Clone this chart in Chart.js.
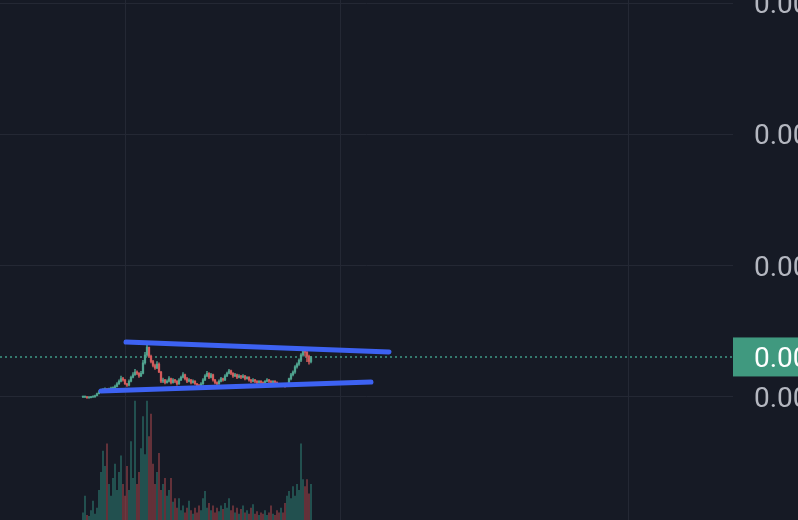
<!DOCTYPE html>
<html>
<head>
<meta charset="utf-8">
<script src="https://cdn.jsdelivr.net/npm/chart.js@4.4.1/dist/chart.umd.min.js"></script>
<style>
    html, body { margin: 0; padding: 0; background: #161a25; overflow: hidden; width: 798px; height: 520px; }
    #wrap { width: 880px; height: 520px; }
    canvas { display: block; }
</style>
</head>
<body>
<div id="wrap"><canvas id="myChart" width="880" height="520"></canvas></div>
<script>
// prices are in millionths (100 -> 0.0001000)
const closes = [
    100, 100, 99.5, 99.5, 100, 100, 101, 102.5, 104, 105,
    105.5, 106, 105.5, 106, 106.5, 107, 108, 110, 112, 114,
    113, 110, 109, 112, 115, 117, 119, 118, 116, 118,
    126, 132, 138, 131, 127, 124, 122, 125, 119, 112,
    113, 111, 112, 114, 111, 113, 112, 110, 113, 115,
    117, 114, 112, 113, 111, 112, 110, 109, 108.5, 110,
    113, 116, 118, 115, 117, 113, 111, 110, 112, 114,
    113, 116, 118, 120, 118, 116, 117, 115, 116, 115,
    116, 114, 115, 113, 112, 113, 112, 111, 112, 111,
    110, 112, 113, 112, 111, 112, 111, 110, 109, 110,
    109, 108.5, 110, 114, 117, 119, 123, 125, 128, 132, 135, 134, 131, 127, 130.5
];
const highs = [
    100.5, 100.5, 100.3, 100, 100.5, 100.6, 101.5, 103, 104.8, 105.8,
    106.5, 107, 106.5, 106.8, 107.5, 107.8, 109, 111, 113, 116,
    115, 113.5, 110.5, 113, 116, 118.5, 121, 120, 118.5, 119.5,
    128, 134, 141.5, 137, 132, 128, 125, 127, 126, 119.5,
    114.5, 113.5, 113, 115.5, 114.5, 114, 113.5, 112.5, 114, 116,
    118.5, 117.5, 115, 114, 113.5, 113, 112.5, 110.5, 109.5, 111,
    114, 117, 119.5, 118.5, 118, 117.5, 113.5, 111.5, 113, 115,
    114.5, 117, 119, 121, 120.5, 118.5, 118, 117.5, 117, 116.5,
    117, 116.5, 115.5, 115.5, 113.5, 114, 113.5, 112.5, 112.5, 112.5,
    111.5, 112.5, 114, 113.5, 112.5, 112.5, 112.5, 111.5, 110.5, 110.5,
    110.5, 109.5, 110.5, 114.5, 118, 120, 124, 126, 129, 133, 136.5, 137, 135, 132, 131
];
const lows = [
    99.5, 99.5, 99, 99, 99.3, 99.6, 99.8, 100.8, 102.3, 103.8,
    104.8, 105, 105, 105.2, 105.8, 106.2, 106.8, 107.6, 109.5, 111.5,
    112, 109.5, 108, 108.5, 111.5, 114.5, 116.5, 117, 115, 115.5,
    117.5, 125, 131, 130, 126, 123, 121, 121.5, 118.5, 111,
    111, 110, 110.5, 111.5, 110, 110.5, 111, 109, 109.5, 112.5,
    114.5, 113, 111, 111.5, 110, 110.5, 109.5, 108.5, 107.5, 108,
    109.5, 112.5, 115.5, 114, 114.5, 112, 110, 109, 109.5, 111.5,
    112, 112.5, 115.5, 117.5, 117, 115, 115.5, 114, 114.5, 114,
    114.5, 113, 113.5, 112, 111, 111.5, 111, 110, 110.5, 110,
    109, 109.5, 111.5, 111, 110, 110.5, 110, 109, 108, 108.5,
    108.5, 107.5, 108, 109.5, 113, 116, 118, 122, 124, 127, 131, 131, 127, 125, 126
];
const volumes = [
    6, 20, 4, 3, 8, 16, 5, 10, 25, 40,
    58, 45, 64, 30, 20, 35, 47, 25, 40, 54,
    30, 20, 45, 25, 66, 35, 100, 30, 40, 60,
    87, 55, 100, 70, 89, 47, 30, 40, 56, 25,
    30, 35, 20, 25, 35, 15, 18, 10, 18, 8,
    12, 6, 10, 16, 8, 5, 10, 6, 12, 8,
    18, 24, 10, 14, 8, 12, 6, 10, 7, 12,
    9, 14, 10, 18, 8, 12, 6, 10, 5, 9,
    12, 6, 8, 5, 10, 13, 5, 7, 4, 6,
    5, 8, 4, 6, 12, 5, 4, 8, 6, 10,
    6, 14, 20, 24, 18, 28, 20, 30, 25, 64, 34, 28, 34, 22, 30
];

// trend lines drawn on the chart (bar index, price)
const upperLine = [{ x: 21.5, y: 141.9 }, { x: 153, y: 134.3 }];
const lowerLine = [{ x: 9, y: 104.6 }, { x: 144, y: 111.4 }];

const priceTicks = [100, 200, 300, 400];
const timeGrid = [21, 128.5, 272.5];

const upColor = '#4fa38f';
const downColor = '#d35b5b';
const bg = '#161a25';
const gridColor = '#242834';
const lastPrice = closes[closes.length - 1];

const fmt = v => (v / 1e6).toFixed(7);

let wicks = [], bodies = [], vols = [], candleColors = [], volColors = [];
closes.forEach((c, i) => {
    const o = i === 0 ? c : closes[i - 1];
    const up = c >= o;
    wicks.push({ x: i, y: [lows[i], highs[i]] });
    bodies.push({ x: i, y: [Math.min(o, c), Math.max(o, c)] });
    vols.push({ x: i, y: volumes[i] });
    candleColors.push(up ? upColor : downColor);
    volColors.push(up ? 'rgba(50,150,135,0.45)' : 'rgba(200,80,85,0.45)');
});

const bgPlugin = {
    id: 'bg',
    beforeDraw(chart) {
        const c = chart.ctx;
        c.save();
        c.fillStyle = bg;
        c.fillRect(0, 0, chart.width, chart.height);
        c.restore();
    }
};

const priceLabel = {
    id: 'priceLabel',
    afterDraw(chart) {
        const c = chart.ctx;
        const y = chart.scales.y.getPixelForValue(lastPrice);
        const left = chart.chartArea.right;
        c.save();
        c.fillStyle = '#40997f';
        c.fillRect(left, y - 19.5, chart.width - left, 39);
        c.fillStyle = '#ffffff';
        c.font = '28px Roboto';
        c.textBaseline = 'middle';
        c.textAlign = 'left';
        c.fillText(fmt(lastPrice), left + 21, y + 3);
        c.restore();
    }
};

const ctx = document.getElementById('myChart').getContext('2d');
new Chart(ctx, {
    type: 'bar',
    data: {
        datasets: [
            {
                type: 'line',
                data: upperLine,
                borderColor: '#3d62f2',
                borderWidth: 5,
                borderCapStyle: 'round',
                pointRadius: 0,
                yAxisID: 'y',
                order: 1
            },
            {
                type: 'line',
                data: lowerLine,
                borderColor: '#3d62f2',
                borderWidth: 5,
                borderCapStyle: 'round',
                pointRadius: 0,
                yAxisID: 'y',
                order: 1
            },
            {
                data: bodies,
                backgroundColor: candleColors,
                barThickness: 1.6,
                minBarLength: 1,
                grouped: false,
                yAxisID: 'y',
                order: 2
            },
            {
                data: wicks,
                backgroundColor: candleColors,
                barThickness: 0.8,
                grouped: false,
                yAxisID: 'y',
                order: 3
            },
            {
                type: 'line',
                data: [{ x: -41.5, y: lastPrice }, { x: 325, y: lastPrice }],
                borderColor: '#3f9a86',
                borderWidth: 1.5,
                borderDash: [2, 3],
                pointRadius: 0,
                yAxisID: 'y',
                order: 4
            },
            {
                data: vols,
                backgroundColor: volColors,
                barThickness: 1.3,
                grouped: false,
                yAxisID: 'v',
                order: 5
            }
        ]
    },
    options: {
        responsive: false,
        animation: false,
        devicePixelRatio: 1,
        layout: { padding: 0 },
        plugins: { legend: { display: false }, tooltip: { enabled: false } },
        scales: {
            x: {
                type: 'linear',
                min: -41.5,
                max: 325,
                offset: false,
                grid: { color: gridColor, lineWidth: 1, drawTicks: false, offset: false },
                border: { display: true, color: gridColor },
                ticks: { display: false },
                afterBuildTicks: s => { s.ticks = timeGrid.map(v => ({ value: v })); },
                afterFit: s => { s.height = 0; s.paddingLeft = 0; s.paddingRight = 0; }
            },
            y: {
                type: 'linear',
                position: 'right',
                min: 6.3,
                max: 402.4,
                grid: { color: gridColor, lineWidth: 1, drawTicks: false },
                border: { display: false },
                ticks: {
                    color: '#b4b7c0',
                    font: { family: 'Roboto', size: 28 },
                    padding: 21,
                    labelOffset: 3,
                    callback: v => fmt(v)
                },
                afterBuildTicks: s => { s.ticks = priceTicks.map(v => ({ value: v })); },
                afterFit: s => { s.width = 147; s.paddingTop = 0; s.paddingBottom = 0; }
            },
            v: {
                type: 'linear',
                display: false,
                min: 0,
                max: 437
            }
        }
    },
    plugins: [bgPlugin, priceLabel]
});
</script>
</body>
</html>
